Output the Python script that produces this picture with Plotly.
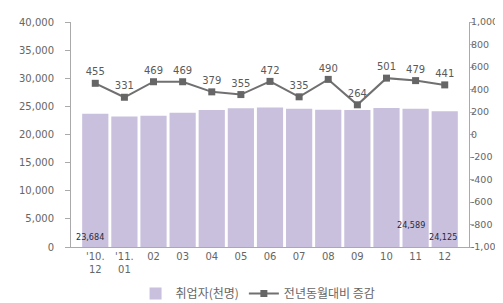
import plotly.graph_objects as go

categories = ["'10.<br>12", "'11.<br>01", "02", "03", "04", "05", "06", "07", "08", "09", "10", "11", "12"]
employed = [23684, 23210, 23350, 23870, 24360, 24660, 24780, 24600, 24420, 24370, 24690, 24589, 24125]
yoy_change = [455, 331, 469, 469, 379, 355, 472, 335, 490, 264, 501, 479, 441]
left_ticks = [0, 5000, 10000, 15000, 20000, 25000, 30000, 35000, 40000]
right_ticks = [-1000, -800, -600, -400, -200, 0, 200, 400, 600, 800, 1000]

kr_font = "Noto Sans CJK KR, sans-serif"
num_font = "DejaVu Sans, sans-serif"
tick_color = "#666666"

fig = go.Figure()
fig.add_trace(go.Bar(
    x=categories, y=employed, name="취업자(천명)",
    marker=dict(color="#c9c0dd", line=dict(width=0)),
    yaxis="y",
))
fig.add_trace(go.Scatter(
    x=categories, y=yoy_change, name="전년동월대비 증감",
    mode="lines+markers+text",
    text=[str(v) for v in yoy_change], textposition="top center",
    textfont=dict(size=10, color="#5a5a5a", family=num_font),
    line=dict(color="#707070", width=2),
    marker=dict(symbol="square", size=7, color="#666666"),
    yaxis="y2",
))

# bar value annotations (first and last two bars)
ann_idx = [0, 11, 12]
ann_y = [1800, 3900, 1800]
ann_shift = [-5, -5, -2]
for i, yy, sh in zip(ann_idx, ann_y, ann_shift):
    fig.add_annotation(x=categories[i], y=yy, yref="y", text=f"{employed[i]:,}",
                       showarrow=False, xshift=sh,
                       font=dict(size=9, color="#2a2a3a", family="DejaVu Sans Condensed, DejaVu Sans"))

fig.update_layout(
    width=503, height=303,
    margin=dict(l=63, r=42, t=14, b=64),
    paper_bgcolor="white", plot_bgcolor="white",
    bargap=0.1,
    showlegend=True,
    legend=dict(orientation="h", x=0.47, xanchor="center",
                yref="container", y=0.058, yanchor="middle",
                font=dict(size=12, color="#666666", family=kr_font),
                traceorder="normal"),
    xaxis=dict(tickfont=dict(size=10, color=tick_color, family=num_font),
               showline=True, linecolor="#aaaaaa", ticks="", showgrid=False,
               automargin=False),
    yaxis=dict(range=[0, 40000], tickvals=left_ticks,
               ticktext=[f"{v:,}" for v in left_ticks],
               tickfont=dict(size=10, color=tick_color, family=num_font),
               showline=True, linecolor="#aaaaaa", ticks="outside", ticklen=5,
               tickcolor="#aaaaaa", showgrid=False, zeroline=False,
               ticklabelstandoff=9, automargin=False),
    yaxis2=dict(range=[-1000, 1000], tickvals=right_ticks,
                ticktext=[f"{v:,}" for v in right_ticks],
                tickfont=dict(size=9.5, color=tick_color, family=num_font),
                overlaying="y", side="right",
                showline=True, linecolor="#aaaaaa", ticks="outside", ticklen=4,
                tickcolor="#aaaaaa", showgrid=False, zeroline=False,
                ticklabelstandoff=-5, automargin=False),
)

fig.write_html("out.html")
